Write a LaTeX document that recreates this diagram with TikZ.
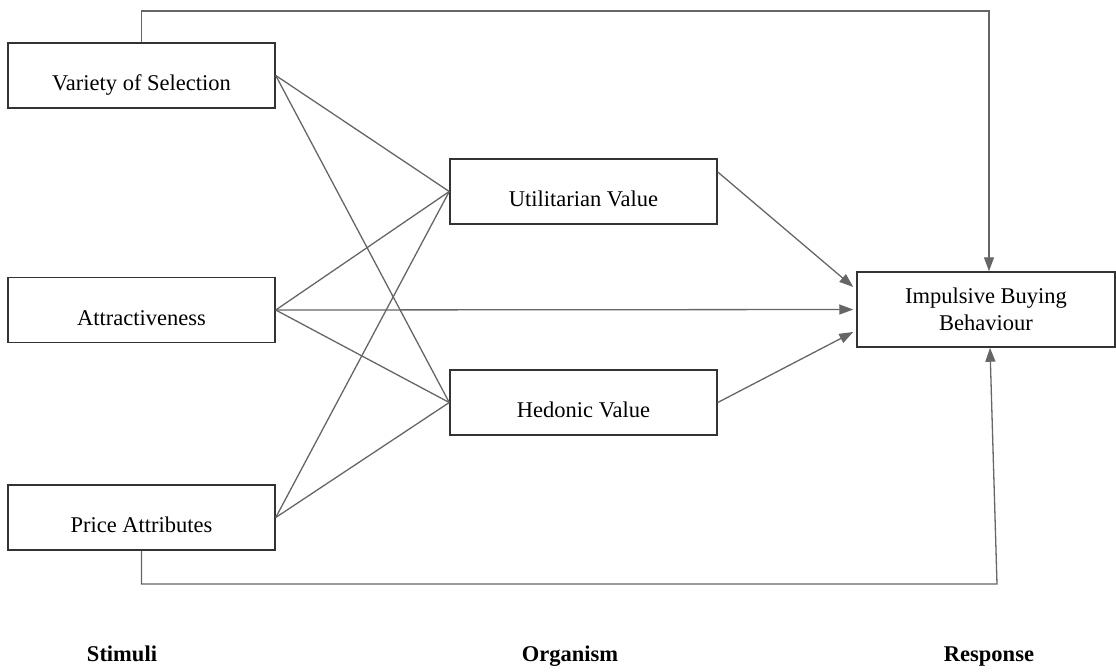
\documentclass[tikz,border=0pt]{standalone}
\usepackage{fontspec}
\setmainfont{Liberation Serif}
\usetikzlibrary{positioning, arrows.meta, calc}
\definecolor{boxline}{HTML}{333333}
\definecolor{connline}{HTML}{666666}

\begin{document}
\begin{tikzpicture}[
    x=0.5pt, y=-0.5pt,
    basebox/.style={
        draw=boxline, line width=0.75pt, rectangle,
        font=\fontsize{11.25}{13.5}\selectfont, align=center, inner sep=0pt
    },
    varbox/.style={
        basebox, minimum width=133.5pt, minimum height=32.5pt,
        text height=15.2pt, text depth=0pt
    },
    conn/.style={
        draw=connline, line width=0.65pt
    },
    connarrow/.style={
        conn, -{Triangle[length=7pt, width=5pt]}
    },
    grouplbl/.style={
        font=\fontsize{11.25}{13.5}\selectfont\bfseries, inner sep=0pt, anchor=base
    }
]

% Canvas: 1116 x 671 units, y grows downward
\useasboundingbox (0,0) rectangle (1116,671);

% -- Stimuli --
\node[varbox] (variety) at (141.5, 75.5) {Variety of Selection};
\node[varbox] (attract) at (141.5, 310) {Attractiveness};
\node[varbox] (price) at (141.5, 517.5) {Price Attributes};

% -- Organism --
\node[varbox] (util) at (583.5, 191.5) {Utilitarian Value};
\node[varbox] (hedonic) at (583.5, 402.5) {Hedonic Value};

% -- Response --
\node[basebox, minimum width=129pt, minimum height=37.5pt] (impulse) at (986, 309.5)
    {Impulsive Buying\\Behaviour};

% Stimuli -> Organism (plain lines, all crossing)
\foreach \src in {variety, attract, price} {
    \draw[conn] (\src.east) -- (util.west);
    \draw[conn] (\src.east) -- (hedonic.west);
}

% Organism -> Response
\draw[connarrow] ($(util.east)+(0,-19.5)$) -- ($(impulse.west)+(-3,-22.5)$);
\draw[connarrow] (hedonic.east) -- ($(impulse.west)+(-3,22.5)$);

% Direct path: Attractiveness -> Response
\draw[connarrow] (attract.east) -- ($(impulse.west)+(-3,0)$);

% Direct paths round the top and bottom
\coordinate (topturn) at (989, 11);
\coordinate (botturn) at (997, 584);
\draw[connarrow] (variety.north) |- (topturn) -- (topturn |- impulse.north);
\draw[connarrow] (price.south) |- (botturn) -- ($(impulse.south)+(4,0)$);

% Group labels
\node[grouplbl] (stimuli) at (122, 661) {Stimuli};
\node[grouplbl] (organism) at (570, 661) {Organism};
\node[grouplbl] (response) at (989, 661) {Response};

\end{tikzpicture}
\end{document}
